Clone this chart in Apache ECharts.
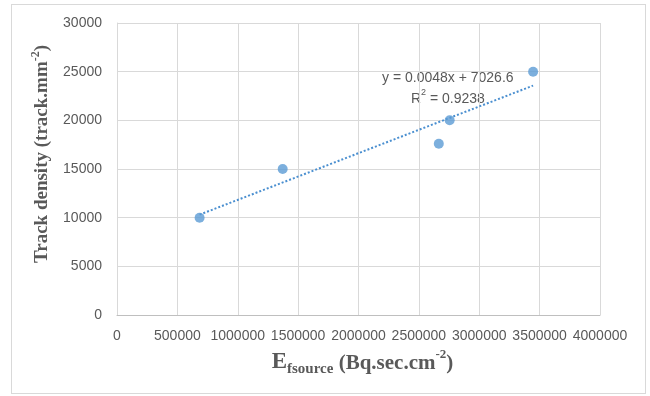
<!DOCTYPE html>
<html>
<head>
<meta charset="utf-8">
<script src="https://cdn.jsdelivr.net/npm/echarts@6/dist/echarts.min.js"></script>
<style>
  html, body { margin: 0; padding: 0; background: #fff; }
  #box { position: absolute; left: 11px; top: 4px; width: 635px; height: 390px; border: 1px solid #d9d9d9; box-sizing: border-box; }
  #chart { width: 650px; height: 396px; }
</style>
</head>
<body>
<div id="box"></div>
<div id="chart"></div>
<script>
// measured points
var fluence = [684000, 1372000, 2665000, 2755000, 3446000]
var density = [10000, 15000, 17600, 20000, 25000]
// linear trendline from the chart's label
var slope = 0.0048
var intercept = 7026.6
var rSquared = 0.9238
var xTicks = [0, 4000000, 500000]
var yTicks = [0, 30000, 5000]

var points = fluence.map(function (x, i) { return [x, density[i]] })
var xMin = Math.min.apply(null, fluence)
var xMax = Math.max.apply(null, fluence)
var trend = [[xMin, slope * xMin + intercept], [xMax, slope * xMax + intercept]]

var tickFont = { color: '#595959', fontSize: 14, fontFamily: 'Liberation Sans', hideOverlap: false, showMaxLabel: true, showMinLabel: true }
var grayLine = { lineStyle: { color: '#d9d9d9', width: 1 } }
var plain = function (v) { return String(v) }

var chart = echarts.init(document.getElementById('chart'))
chart.setOption({
  animation: false,
  grid: { left: 117, right: 50, top: 23, bottom: 81 },
  xAxis: {
    type: 'value',
    min: xTicks[0],
    max: xTicks[1],
    interval: xTicks[2],
    axisLine: { show: true, lineStyle: { color: '#bfbfbf' } },
    axisTick: { show: false },
    splitLine: grayLine,
    axisLabel: Object.assign({ margin: 14, formatter: plain }, tickFont),
    name: '{e|E}{sub|fsource}{b| (Bq.sec.cm}{sup|-2}{b|)}',
    nameLocation: 'middle',
    nameGap: 25,
    nameTextStyle: {
      color: '#595959',
      fontFamily: 'Liberation Serif',
      fontWeight: 'bold',
      padding: [0, 0, 0, 8],
      rich: {
        e: { fontSize: 23, fontWeight: 'bold', fontFamily: 'Liberation Serif', color: '#595959', lineHeight: 26, verticalAlign: 'bottom' },
        sub: { fontSize: 15, fontWeight: 'bold', fontFamily: 'Liberation Serif', color: '#595959', lineHeight: 26, verticalAlign: 'bottom', padding: [0, 0, -3, 0] },
        b: { fontSize: 21, fontWeight: 'bold', fontFamily: 'Liberation Serif', color: '#595959', lineHeight: 26, verticalAlign: 'bottom' },
        sup: { fontSize: 13, fontWeight: 'bold', fontFamily: 'Liberation Serif', color: '#595959', lineHeight: 26, verticalAlign: 'top' }
      }
    }
  },
  yAxis: {
    type: 'value',
    min: yTicks[0],
    max: yTicks[1],
    interval: yTicks[2],
    axisLine: { show: true, lineStyle: { color: '#d9d9d9' } },
    axisTick: { show: false },
    splitLine: grayLine,
    axisLabel: Object.assign({ margin: 15, formatter: plain }, tickFont),
    name: '{b|Track density (track.mm}{sup|-2}{b|)}',
    nameLocation: 'middle',
    nameGap: 65,
    nameRotate: 90,
    nameTextStyle: {
      color: '#595959',
      padding: [0, 0, 0, 30],
      rich: {
        b: { fontSize: 19, fontWeight: 'bold', fontFamily: 'Liberation Serif', color: '#595959', lineHeight: 22, verticalAlign: 'bottom' },
        sup: { fontSize: 12, fontWeight: 'bold', fontFamily: 'Liberation Serif', color: '#595959', lineHeight: 22, verticalAlign: 'top' }
      }
    }
  },
  series: [
    {
      type: 'line',
      data: trend,
      symbol: 'none',
      lineStyle: { color: '#4a8fd0', width: 2, type: [2, 2] },
      z: 2
    },
    {
      type: 'scatter',
      data: points,
      symbolSize: 10,
      itemStyle: { color: '#5b9bd5' },
      z: 3
    }
  ],
  graphic: [
    {
      type: 'text',
      left: 382,
      top: 71,
      style: {
        text: 'y = ' + slope + 'x + ' + intercept,
        fill: '#595959',
        font: '14px "Liberation Sans"'
      }
    },
    {
      type: 'text',
      left: 411,
      top: 88,
      style: {
        text: '{t|R}{s|2}{t| = ' + rSquared + '}',
        rich: {
          t: { fill: '#595959', fontSize: 14, fontFamily: 'Liberation Sans', lineHeight: 18, verticalAlign: 'bottom' },
          s: { fill: '#595959', fontSize: 9, fontFamily: 'Liberation Sans', lineHeight: 18, verticalAlign: 'top' }
        }
      }
    }
  ]
})
</script>
</body>
</html>
